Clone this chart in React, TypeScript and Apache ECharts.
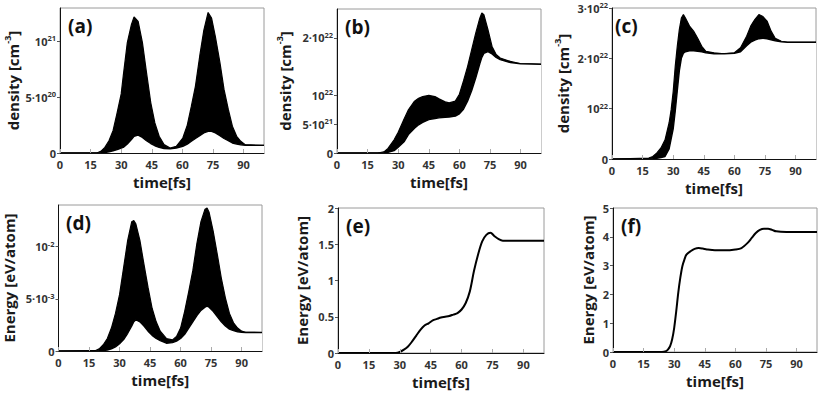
import React, { useEffect, useRef } from "react";
import * as echarts from "echarts";

// ---------- data ----------
const xTicks = [0, 15, 30, 45, 60, 75, 90];

// (a) density, units 1e20 cm^-3
const tA = [0, 18, 20, 22, 24, 26, 28, 30, 31, 33, 35, 36.3, 38.3, 40.4, 42.4, 44.5, 46.5, 48.6, 51, 54, 57, 60.2, 62.4, 64.4, 66.4, 68.5, 70.5, 72.6, 74.3, 76.2, 78.4, 80.4, 82.5, 84.5, 86.6, 88.6, 90.8, 100];
const aUpper = [0, 0, 0.15, 0.5, 1.1, 2.0, 3.6, 5.3, 6.9, 9.9, 11.5, 12.2, 11.8, 9.9, 7.2, 4.5, 2.7, 1.5, 0.75, 0.45, 0.6, 1.34, 2.5, 4.2, 6.0, 8.7, 11.0, 12.6, 12.1, 10.4, 8.1, 5.7, 3.9, 2.4, 1.5, 1.05, 0.75, 0.68];
const aLower = [0, 0, 0.02, 0.05, 0.1, 0.2, 0.3, 0.45, 0.5, 0.8, 1.2, 1.5, 1.6, 1.4, 1.1, 0.85, 0.65, 0.5, 0.4, 0.38, 0.45, 0.6, 0.8, 1.05, 1.3, 1.55, 1.8, 1.95, 1.95, 1.8, 1.55, 1.3, 1.1, 0.9, 0.8, 0.73, 0.69, 0.68];

// (b) density, units 1e21 cm^-3
const tB = [0, 20, 23, 25, 28, 30, 33, 35, 38, 40, 42, 45, 48, 50, 53, 55, 58, 60, 62, 64, 66, 68, 70, 71, 72, 74, 76, 78, 80, 85, 90, 100];
const bUpper = [0, 0, 0.2, 0.8, 2.3, 3.6, 6.0, 7.5, 9.0, 9.5, 9.8, 10.0, 9.8, 9.4, 8.9, 8.7, 9.0, 10.2, 12.5, 15.0, 17.9, 20.8, 23.4, 24.3, 24.0, 21.4, 18.5, 17.1, 16.5, 15.9, 15.5, 15.4];
const bLower = [0, 0, 0.05, 0.1, 0.4, 1.0, 2.0, 3.2, 4.3, 4.9, 5.3, 5.8, 6.0, 6.1, 6.2, 6.25, 6.4, 6.8, 7.6, 9.0, 10.8, 13.0, 15.5, 16.6, 17.3, 17.6, 17.2, 16.6, 16.2, 15.7, 15.5, 15.4];

// (c) density, units 1e21 cm^-3
const tC = [0, 18, 20, 22, 24, 26, 28, 29, 30, 31, 32, 33, 34, 35, 36, 38, 40, 42, 44, 46, 50, 55, 60, 63, 66, 68, 70, 72, 74, 76, 78, 80, 83, 86, 100];
const cUpper = [0, 0.2, 0.5, 1.2, 2.2, 3.8, 7.2, 9.8, 13.4, 18.4, 22.4, 25.7, 28.0, 28.7, 28.0, 26.4, 25.4, 24.0, 22.4, 21.4, 21.1, 20.9, 21.1, 22.1, 24.4, 26.4, 27.7, 28.7, 28.3, 27.4, 25.4, 24.0, 23.4, 23.2, 23.2];
const cLower = [0, 0, 0.05, 0.15, 0.3, 0.5, 2.0, 4.0, 6.0, 9.5, 13.5, 17.5, 20.0, 21.0, 21.3, 21.5, 21.5, 21.4, 21.3, 21.1, 20.9, 20.9, 21.0, 21.3, 22.5, 23.2, 23.6, 23.9, 24.0, 23.9, 23.7, 23.5, 23.3, 23.2, 23.2];

// (d) energy, units 1e-3 eV/atom
const tD = [0, 18, 20, 22, 24, 26, 28, 30, 32, 34, 36, 37, 38, 40, 42, 44, 46, 48, 50, 53, 56, 58, 60, 62, 64, 66, 68, 70, 72, 73, 74, 76, 78, 80, 82, 84, 86, 88, 90, 92, 100];
const dUpper = [0, 0.03, 0.2, 0.6, 1.2, 2.2, 3.6, 5.4, 8.0, 10.6, 12.4, 12.5, 12.2, 10.6, 8.3, 6.1, 4.1, 2.8, 1.9, 1.2, 1.06, 1.4, 2.2, 3.8, 5.7, 7.7, 10.3, 12.4, 13.6, 13.7, 13.3, 11.5, 9.3, 7.0, 5.1, 3.6, 2.7, 2.2, 1.9, 1.8, 1.77];
const dLower = [0, 0, 0.02, 0.05, 0.1, 0.2, 0.4, 0.7, 1.1, 1.7, 2.4, 2.8, 3.0, 2.8, 2.4, 1.9, 1.5, 1.2, 1.0, 0.75, 0.8, 0.95, 1.2, 1.6, 2.2, 2.8, 3.4, 3.9, 4.2, 4.3, 4.2, 3.8, 3.3, 2.8, 2.4, 2.1, 1.95, 1.85, 1.8, 1.77, 1.77];

// (e) energy, eV/atom
const tE = [0, 28, 30, 32, 34, 36, 38, 40, 42, 44, 46, 48, 50, 52, 54, 56, 58, 60, 62, 64, 66, 68, 70, 72, 74, 76, 78, 80, 100];
const eVals = [0, 0, 0.014, 0.046, 0.09, 0.16, 0.24, 0.32, 0.38, 0.41, 0.45, 0.47, 0.49, 0.5, 0.51, 0.53, 0.55, 0.6, 0.69, 0.85, 1.13, 1.36, 1.54, 1.63, 1.66, 1.61, 1.57, 1.55, 1.55];

// (f) energy, eV/atom
const tF = [0, 24, 26, 27, 28, 29, 30, 31, 32, 33, 34, 35, 36, 38, 40, 42, 44, 46, 50, 55, 60, 63, 66, 68, 70, 72, 74, 76, 78, 80, 85, 100];
const fVals = [0, 0, 0.03, 0.09, 0.2, 0.44, 0.84, 1.42, 2.06, 2.58, 2.98, 3.21, 3.38, 3.5, 3.58, 3.61, 3.59, 3.56, 3.53, 3.53, 3.56, 3.61, 3.79, 3.96, 4.13, 4.24, 4.28, 4.28, 4.24, 4.19, 4.17, 4.17];

// tick labels
const aYTicks = [0, 5, 10];
const aYLabels = ["0", "{n|5·10}{s|20}", "{n|10}{s|21}"];
const bYTicks = [0, 5, 10, 20];
const bYLabels = ["0", "{n|5·10}{s|21}", "{n|10}{s|22}", "{n|2·10}{s|22}"];
const cYTicks = [0, 10, 20, 30];
const cYLabels = ["0", "{n|10}{s|22}", "{n|2·10}{s|22}", "{n|3·10}{s|22}"];
const dYTicks = [0, 5, 10];
const dYLabels = ["0", "{n|5·10}{s|-3}", "{n|10}{s|-2}"];
const eYTicks = [0, 0.5, 1, 1.5, 2];
const eYLabels = ["0", "0.5", "1", "1.5", "2"];
const fYTicks = [0, 1, 2, 3, 4, 5];
const fYLabels = ["0", "1", "2", "3", "4", "5"];

const FONT = "'Open Sans', 'DejaVu Sans', sans-serif";

const densityName = "{n|density [cm}{s|-3}{n|]}";
const energyName = "{n|Energy [eV/atom]}";

type Panel = {
  label: string;
  grid: { left: number; top: number; width: number; height: number };
  yMax: number;
  yTicks: number[];
  yLabels: string[];
  yName: string;
  yNameGap: number;
  t: number[];
  upper: number[];
  lower?: number[];
};

const panels: Panel[] = [
  { label: "(a)", grid: { left: 60, top: 8, width: 204, height: 145 }, yMax: 13, yTicks: aYTicks, yLabels: aYLabels, yName: densityName, yNameGap: 37, t: tA, upper: aUpper, lower: aLower },
  { label: "(b)", grid: { left: 337, top: 9, width: 204, height: 144 }, yMax: 25, yTicks: bYTicks, yLabels: bYLabels, yName: densityName, yNameGap: 42, t: tB, upper: bUpper, lower: bLower },
  { label: "(c)", grid: { left: 612, top: 8, width: 204, height: 151 }, yMax: 30, yTicks: cYTicks, yLabels: cYLabels, yName: densityName, yNameGap: 39, t: tC, upper: cUpper, lower: cLower },
  { label: "(d)", grid: { left: 58, top: 205, width: 204, height: 146 }, yMax: 14, yTicks: dYTicks, yLabels: dYLabels, yName: energyName, yNameGap: 40, t: tD, upper: dUpper, lower: dLower },
  { label: "(e)", grid: { left: 338, top: 208, width: 206, height: 145 }, yMax: 2, yTicks: eYTicks, yLabels: eYLabels, yName: energyName, yNameGap: 26, t: tE, upper: eVals },
  { label: "(f)", grid: { left: 613, top: 208, width: 204, height: 144 }, yMax: 5, yTicks: fYTicks, yLabels: fYLabels, yName: energyName, yNameGap: 15, t: tF, upper: fVals },
];

const tickRich = {
  n: { fontSize: 11, fontWeight: "bold", color: "#333", fontFamily: FONT, lineHeight: 14 },
  s: { fontSize: 7.5, fontWeight: "bold", color: "#333", fontFamily: FONT, lineHeight: 8, verticalAlign: "top" },
};
const nameRich = {
  n: { fontSize: 15, fontWeight: "bold", color: "#1a1a1a", fontFamily: FONT, lineHeight: 20 },
  s: { fontSize: 9, fontWeight: "bold", color: "#1a1a1a", fontFamily: FONT, lineHeight: 10, verticalAlign: "top" },
};

function buildOption() {
  const grids: any[] = [];
  const xAxes: any[] = [];
  const yAxes: any[] = [];
  const series: any[] = [];
  const graphics: any[] = [];

  panels.forEach((p, i) => {
    grids.push({ ...p.grid, show: true, borderColor: "#9a9a9a", borderWidth: 1, containLabel: false });
    xAxes.push({
      gridIndex: i,
      type: "value",
      min: 0,
      max: 100,
      z: 10,
      axisLine: { onZero: false, lineStyle: { color: "#111", width: 1 } },
      axisTick: { show: true, inside: true, length: 4, customValues: xTicks, lineStyle: { color: "#aaa" } },
      axisLabel: { customValues: xTicks, fontSize: 11, fontWeight: "bold", color: "#333", fontFamily: FONT, margin: 6 },
      splitLine: { show: false },
      name: "time[fs]",
      nameLocation: "middle",
      nameGap: 21,
      nameTextStyle: { fontSize: 15, fontWeight: "bold", color: "#1a1a1a", fontFamily: FONT },
    });
    const labs = p.yLabels;
    const ticks = p.yTicks;
    yAxes.push({
      gridIndex: i,
      type: "value",
      min: 0,
      max: p.yMax,
      z: 10,
      axisLine: { show: true, lineStyle: { color: "#111", width: 1 } },
      axisTick: { show: true, length: 3, customValues: ticks, lineStyle: { color: "#555" } },
      axisLabel: {
        customValues: ticks,
        margin: 4,
        fontSize: 11,
        fontWeight: "bold",
        color: "#333",
        fontFamily: FONT,
        formatter: (v: number) => {
          const k = ticks.findIndex((x) => Math.abs(x - v) < 1e-9);
          const s = k >= 0 ? labs[k] : "";
          return s.indexOf("{") >= 0 ? s : "{n|" + s + "}";
        },
        rich: tickRich,
      },
      splitLine: { show: false },
      name: p.yName,
      nameLocation: "middle",
      nameRotate: 90,
      nameGap: p.yNameGap,
      nameTextStyle: { rich: nameRich },
    });

    if (p.lower) {
      const low = p.lower;
      // upper envelope, filled black down to the axis
      series.push({
        type: "line",
        xAxisIndex: i,
        yAxisIndex: i,
        symbol: "none",
        z: 2,
        data: p.t.map((t, k) => [t, p.upper[k]]),
        lineStyle: { color: "#000", width: 1.2 },
        areaStyle: { color: "#000", opacity: 1, origin: "start" },
      });
      // lower envelope, white below it
      series.push({
        type: "line",
        xAxisIndex: i,
        yAxisIndex: i,
        symbol: "none",
        z: 3,
        data: p.t.map((t, k) => [t, low[k]]),
        lineStyle: { color: "#000", width: 1.4 },
        areaStyle: { color: "#fff", opacity: 1, origin: "start" },
      });
    } else {
      series.push({
        type: "line",
        xAxisIndex: i,
        yAxisIndex: i,
        symbol: "none",
        smooth: 0.3,
        z: 3,
        data: p.t.map((t, k) => [t, p.upper[k]]),
        lineStyle: { color: "#000", width: 2 },
      });
    }

    graphics.push({
      type: "text",
      x: p.grid.left + (i === 2 ? 3 : 8),
      y: p.grid.top + 8,
      style: { text: p.label, font: "bold 19px " + FONT, fill: "#111", textVerticalAlign: "top" },
      z: 100,
    });
  });

  return {
    animation: false,
    backgroundColor: "#fff",
    grid: grids,
    xAxis: xAxes,
    yAxis: yAxes,
    series,
    graphic: graphics,
  };
}

export default function App() {
  const ref = useRef<HTMLDivElement>(null);
  useEffect(() => {
    if (!ref.current) return;
    const chart = echarts.init(ref.current, undefined, { renderer: "svg" });
    chart.setOption(buildOption() as any);
    return () => chart.dispose();
  }, []);
  return <div ref={ref} style={{ position: "absolute", left: 0, top: 0, width: 831, height: 398 }} />;
}
